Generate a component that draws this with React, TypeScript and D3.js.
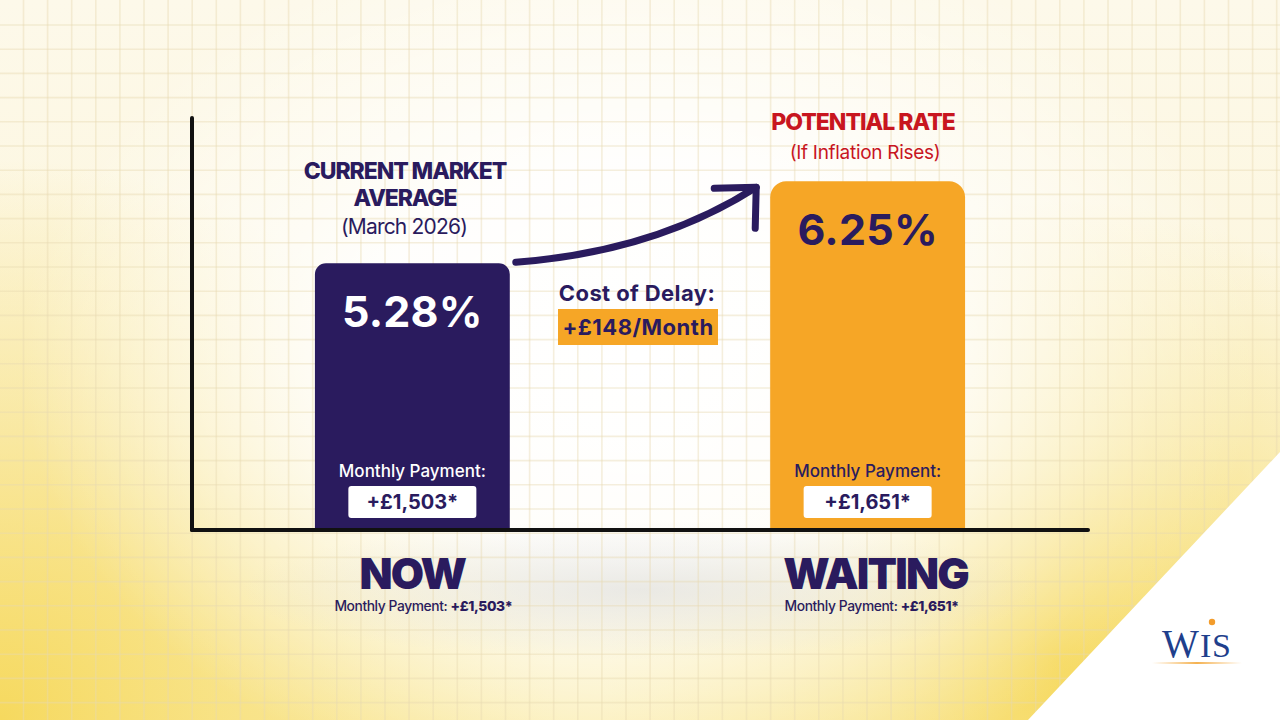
import React from "react";
import * as d3 from "d3";

const categories = ["NOW", "WAITING"];
const rates = [5.28, 6.25];
const payments = ["+£1,503*", "+£1,651*"];
const headingLines = [["CURRENT MARKET", "AVERAGE"], ["POTENTIAL RATE"]];
const subHeadings = ["(March 2026)", "(If Inflation Rises)"];
const costLabel = "Cost of Delay:";
const costValue = "+£148/Month";
const paymentLabel = "Monthly Payment:";
const yDomain = [2.12, 7];

const W = 1280;
const H = 720;
const NAVY = "#2a1b5e";
const ORANGE = "#f6a626";
const RED = "#c8161f";
const FONT = "Inter, 'Open Sans', sans-serif";

const x = d3.scaleBand<string>().domain(categories).range([192, 1088]).paddingInner(0.572).paddingOuter(0.27);
const y = d3.scaleLinear().domain(yDomain).range([530, 118]);

function topRoundedBar(x0: number, y0: number, w: number, h: number, r: number) {
  const p = d3.path();
  p.moveTo(x0, y0 + h);
  p.lineTo(x0, y0 + r);
  p.arcTo(x0, y0, x0 + r, y0, r);
  p.lineTo(x0 + w - r, y0);
  p.arcTo(x0 + w, y0, x0 + w, y0 + r, r);
  p.lineTo(x0 + w, y0 + h);
  p.closePath();
  return p.toString();
}

export default function App() {
  const bw = x.bandwidth();
  const gridX = d3.range(23.5, W, 24.1);
  const gridY = d3.range(25, H, 24.2);
  const base = y(yDomain[0]);

  const c0 = x(categories[0])! + bw / 2;
  const c1 = x(categories[1])! + bw / 2;
  const top0 = y(rates[0]);
  const top1 = y(rates[1]);

  const aStart: [number, number] = [x(categories[0])! + bw + 6, top0 - 1];
  const aTip: [number, number] = [x(categories[1])! - 14, top1 + 6];
  const arrowPath = d3.path();
  arrowPath.moveTo(aStart[0], aStart[1]);
  arrowPath.quadraticCurveTo(655, 252, aTip[0], aTip[1]);
  const headPath = d3.path();
  headPath.moveTo(aTip[0] - 42, aTip[1] + 1);
  headPath.lineTo(aTip[0], aTip[1]);
  headPath.lineTo(aTip[0] - 1, aTip[1] + 41);

  const midX = (c0 + c1) / 2 - 2;
  const subX = [c0 + 11, c1 + 4];
  const catX = [c0, c1 + 8];

  return (
    <svg width={W} height={H} style={{ position: "absolute", left: 0, top: 0, display: "block" }} fontFamily={FONT}>
      <defs>
        <linearGradient id="bgLin" x1="0" y1="0" x2="0" y2="1">
          <stop offset="0%" stopColor="#fdf9ea" />
          <stop offset="60%" stopColor="#fcf5da" />
          <stop offset="100%" stopColor="#faeba8" />
        </linearGradient>
        <radialGradient id="ylwBL" cx="0" cy="720" r="560" gradientUnits="userSpaceOnUse">
          <stop offset="0%" stopColor="#f6d95e" stopOpacity="1" />
          <stop offset="45%" stopColor="#f7df78" stopOpacity="0.65" />
          <stop offset="100%" stopColor="#f7df78" stopOpacity="0" />
        </radialGradient>
        <radialGradient id="ylwBR" cx="1060" cy="660" r="460" gradientUnits="userSpaceOnUse">
          <stop offset="0%" stopColor="#f6d95e" stopOpacity="1" />
          <stop offset="45%" stopColor="#f7df78" stopOpacity="0.6" />
          <stop offset="100%" stopColor="#f7df78" stopOpacity="0" />
        </radialGradient>
        <radialGradient id="bgGlow" cx="640" cy="360" r="620" gradientUnits="userSpaceOnUse" gradientTransform="translate(640 360) scale(1 0.72) translate(-640 -360)">
          <stop offset="0%" stopColor="#ffffff" stopOpacity="1" />
          <stop offset="45%" stopColor="#ffffff" stopOpacity="0.92" />
          <stop offset="75%" stopColor="#ffffff" stopOpacity="0.45" />
          <stop offset="100%" stopColor="#ffffff" stopOpacity="0" />
        </radialGradient>
        <radialGradient id="floorShadow" cx="0.5" cy="0.5" r="0.5">
          <stop offset="0%" stopColor="#d6d6d6" stopOpacity="0.5" />
          <stop offset="100%" stopColor="#d6d6d6" stopOpacity="0" />
        </radialGradient>
        <linearGradient id="logoLine" x1="0" y1="0" x2="1" y2="0">
          <stop offset="0%" stopColor="#f6b04a" stopOpacity="0" />
          <stop offset="50%" stopColor="#f3a93d" stopOpacity="0.9" />
          <stop offset="100%" stopColor="#f6b04a" stopOpacity="0" />
        </linearGradient>
      </defs>

      {/* background */}
      <rect x={0} y={0} width={W} height={H} fill="url(#bgLin)" />
      <rect x={0} y={0} width={W} height={H} fill="url(#ylwBL)" />
      <rect x={0} y={0} width={W} height={H} fill="url(#ylwBR)" />
      <rect x={0} y={0} width={W} height={H} fill="url(#bgGlow)" />
      <ellipse cx={640} cy={590} rx={400} ry={70} fill="url(#floorShadow)" />
      <g stroke="#e6dab0" strokeOpacity={0.42} strokeWidth={1.6}>
        {gridX.map((gx) => (
          <line key={"gx" + gx} x1={gx} x2={gx} y1={0} y2={H} />
        ))}
        {gridY.map((gy) => (
          <line key={"gy" + gy} x1={0} x2={W} y1={gy} y2={gy} />
        ))}
      </g>
      <polygon points="1280,452 1280,720 1028,720" fill="#ffffff" />

      {/* bars */}
      <path d={topRoundedBar(x(categories[0])!, top0, bw, base - top0, 11)} fill={NAVY} />
      <path d={topRoundedBar(x(categories[1])!, top1, bw, base - top1, 16)} fill={ORANGE} />

      {/* value labels */}
      <text x={c0} y={top0 + 64} textAnchor="middle" fill="#ffffff" fontSize={43} fontWeight={700} letterSpacing={0.2}>
        {rates[0].toFixed(2) + "%"}
      </text>
      <text x={c1} y={top1 + 64} textAnchor="middle" fill={NAVY} fontSize={43} fontWeight={700} letterSpacing={0.2}>
        {rates[1].toFixed(2) + "%"}
      </text>

      {/* monthly payment in bars */}
      {categories.map((c, i) => {
        const cx = x(c)! + bw / 2;
        return (
          <g key={"mp" + c}>
            <text x={cx} y={477} textAnchor="middle" fontSize={17} fontWeight={500} fill={i === 0 ? "#ffffff" : NAVY}>
              {paymentLabel}
            </text>
            <rect x={cx - 64} y={486} width={128} height={32} rx={3} fill="#ffffff" />
            <text x={cx} y={509} textAnchor="middle" fontSize={20} fontWeight={700} fill={NAVY}>
              {payments[i]}
            </text>
          </g>
        );
      })}

      {/* axes */}
      <line x1={192} x2={192} y1={y(yDomain[1])} y2={base} stroke="#111" strokeWidth={4} strokeLinecap="round" />
      <line x1={192} x2={1088} y1={base} y2={base} stroke="#111" strokeWidth={4} strokeLinecap="round" />

      {/* headings */}
      <g fill={NAVY} fontWeight={800} fontSize={23} textAnchor="middle" letterSpacing={-1.1}>
        <text x={405} y={179}>{headingLines[0][0]}</text>
        <text x={405} y={206}>{headingLines[0][1]}</text>
      </g>
      <text x={404} y={234} textAnchor="middle" fill={NAVY} fontSize={21} fontWeight={400} letterSpacing={-0.8}>
        {subHeadings[0]}
      </text>
      <text x={863} y={130} textAnchor="middle" fill={RED} fontSize={23} fontWeight={800} letterSpacing={-1}>
        {headingLines[1][0]}
      </text>
      <text x={865} y={159} textAnchor="middle" fill={RED} fontSize={19} fontWeight={400} letterSpacing={-0.3}>
        {subHeadings[1]}
      </text>

      {/* arrow */}
      <path d={arrowPath.toString()} fill="none" stroke={NAVY} strokeWidth={7} strokeLinecap="round" />
      <path d={headPath.toString()} fill="none" stroke={NAVY} strokeWidth={7} strokeLinecap="round" strokeLinejoin="round" />

      {/* cost of delay */}
      <text x={midX - 1} y={301} textAnchor="middle" fill={NAVY} fontSize={22} fontWeight={700} letterSpacing={0.4}>
        {costLabel}
      </text>
      <rect x={midX - 80} y={309} width={160} height={36} fill={ORANGE} />
      <text x={midX} y={335} textAnchor="middle" fill={NAVY} fontSize={22} fontWeight={700} letterSpacing={0.5}>
        {costValue}
      </text>

      {/* category labels */}
      {categories.map((c, i) => (
        <g key={"cat" + c}>
          <text x={catX[i]} y={589} textAnchor="middle" fill={NAVY} fontSize={43} fontWeight={900} letterSpacing={-1.8}>
            {c}
          </text>
          <text x={subX[i]} y={611} textAnchor="middle" fill={NAVY} fontSize={13.8} letterSpacing={-0.4}>
            <tspan fontWeight={500}>{paymentLabel} </tspan>
            <tspan fontWeight={800}>{payments[i]}</tspan>
          </text>
        </g>
      ))}

      {/* logo */}
      <g fill="#1f3f8c" fontFamily="'Liberation Serif', 'DejaVu Serif', serif">
        <text x={1162} y={657} fontSize={39}>W</text>
        <text x={1200} y={657} fontSize={34}>I</text>
        <text x={1212} y={657} fontSize={34}>S</text>
        <circle cx={1212} cy={622} r={3.2} fill="#f39c2b" />
        <rect x={1152} y={662} width={90} height={2} fill="url(#logoLine)" />
      </g>
    </svg>
  );
}
